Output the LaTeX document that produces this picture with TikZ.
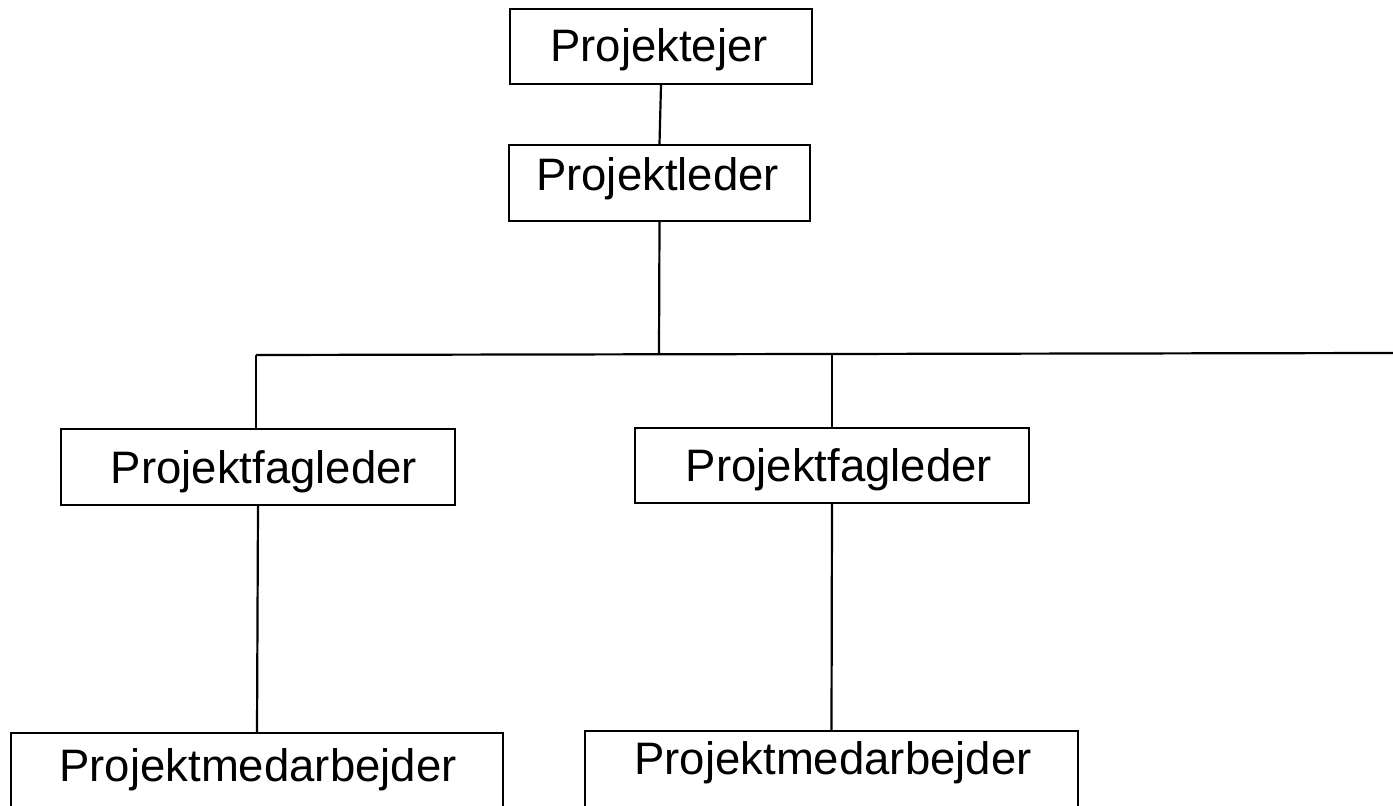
\documentclass[tikz,border=0pt]{standalone}
\usepackage{fontspec}
\setmainfont{Liberation Sans}
\begin{document}
\begin{tikzpicture}[x=0.5pt,y=-0.5pt,
  box/.style={draw=black,line width=1.1pt,inner sep=0pt,minimum height=#1},
  box/.default=37.75pt,
  lbl/.style={anchor=base,inner sep=0pt,font=\fontsize{22.75}{27}\selectfont},
  conn/.style={draw=black,line width=1.1pt}]
\useasboundingbox (0,0) rectangle (1393,806);
\clip (0,0) rectangle (1393,806);
% boxes
\node[box=37.5pt,minimum width=151pt] (pe) at (661,46.5) {};
\node[box=38pt,minimum width=150.5pt] (pl) at (659.5,183) {};
\node[box=38pt,minimum width=197pt] (f1) at (258,467) {};
\node[box=37.5pt,minimum width=197pt] (f2) at (832,465.5) {};
\node[box=38pt,minimum width=246pt] (m1) at (257,771) {};
\node[box=38pt,minimum width=246.5pt] (m2) at (831.5,769) {};
% texts
\node[lbl] (tpe) at (659,62) {Projektejer};
\node[lbl] (tpl) at (657.5,191) {Projektleder};
\node[lbl] (tf1) at (264,484) {Projektfagleder};
\node[lbl] (tf2) at (839,482) {Projektfagleder};
\node[lbl] (tm1) at (258,782) {Projektmedarbejder};
\node[lbl] (tm2) at (833,775) {Projektmedarbejder};
% connector points
\coordinate (hl) at (256,355);
\coordinate (hr) at (1393,353);
\coordinate (hm) at (659,354);
\coordinate (hf2) at (832,354);
% connectors
\draw[conn] (pe.south) -- (pl.north);
\draw[conn] (pl.south) -- (hm);
\draw[conn] (hl) -- (hr);
\draw[conn] (hl) -- (hl |- f1.north);
\draw[conn] (hf2) -- (f2.north);
\draw[conn] (f1.south) -- (m1.north);
\draw[conn] (f2.south) -- (m2.north);
\end{tikzpicture}
\end{document}
